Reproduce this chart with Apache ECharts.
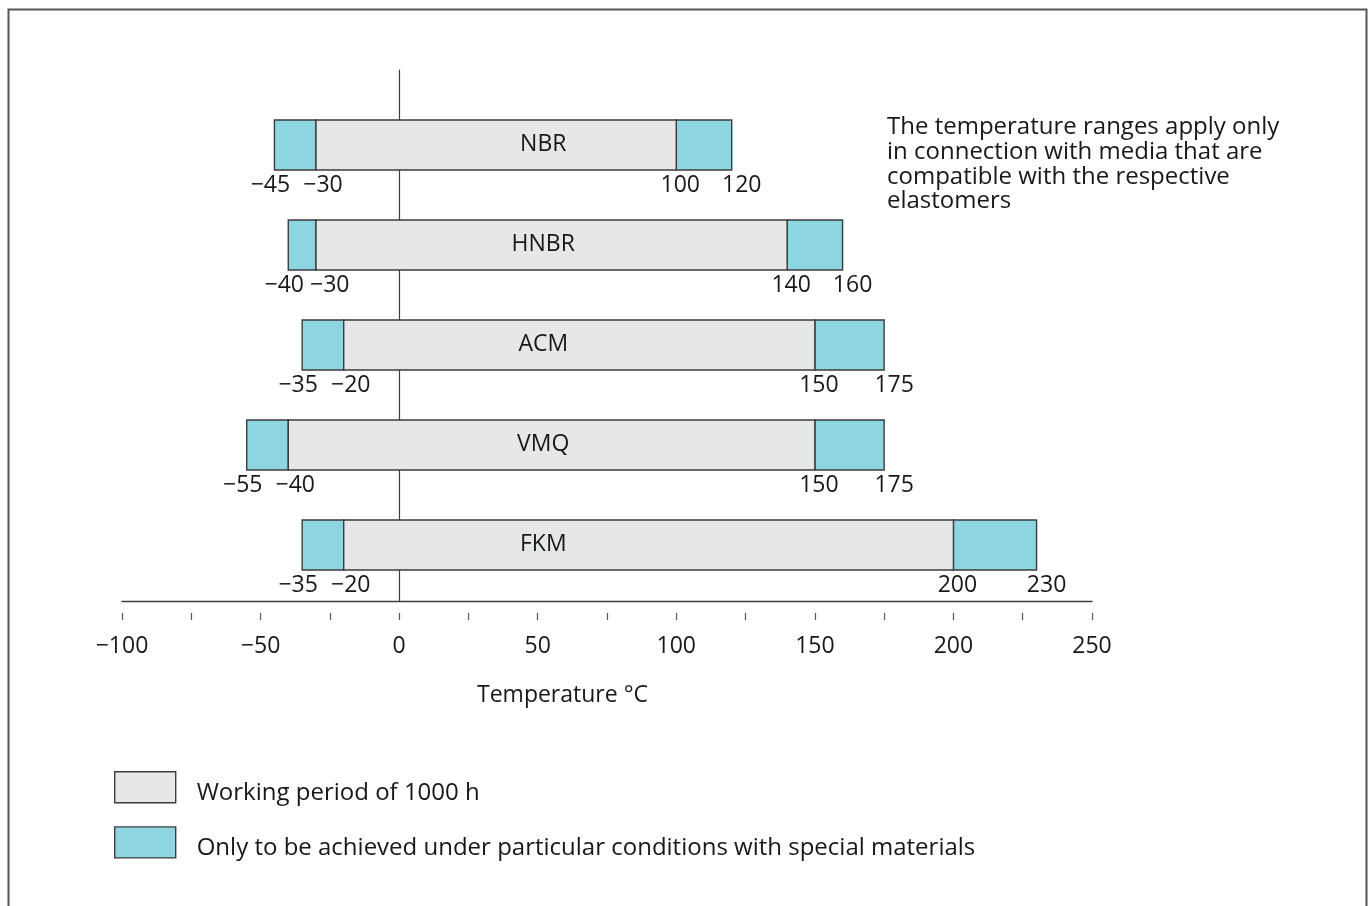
<!DOCTYPE html>
<html>
<head>
<meta charset="utf-8">
<script src="https://cdn.jsdelivr.net/npm/echarts@6/dist/echarts.min.js"></script>
<style>
html,body{margin:0;padding:0;background:#fff;}
#chart{width:1369px;height:906px;}
</style>
</head>
<body>
<div id="chart"></div>
<script>
// ---- data ----
const materials = ['NBR', 'HNBR', 'ACM', 'VMQ', 'FKM'];
const extLow   = [-45, -40, -35, -55, -35];   // lower limit, special conditions
const workLow  = [-30, -30, -20, -40, -20];   // lower limit, 1000 h working period
const workHigh = [100, 140, 150, 150, 200];   // upper limit, 1000 h working period
const extHigh  = [120, 160, 175, 175, 230];   // upper limit, special conditions
const axisMin = -100, axisMax = 250, tickStep = 25, labelStep = 50;
const legendNames = ['Working period of 1000 h', 'Only to be achieved under particular conditions with special materials'];
const noteText = 'The temperature ranges apply only\nin connection with media that are\ncompatible with the respective\nelastomers';
const axisTitle = 'Temperature °C';

// ---- style ----
const FONT = '"Open Sans", "Noto Sans", sans-serif';
const FS = 23;
const FS_BIG = 24;
const GREY = '#e6e7e8';
const CYAN = '#8dd5e0';
const EDGE = '#3c3c3c';
const TXT = '#1a1718';

const rows = materials.map((m, i) => [i, extLow[i], workLow[i], workHigh[i], extHigh[i]]);
const fmt = v => (v < 0 ? '\u2212' : '') + Math.abs(v);

const mctx = document.createElement('canvas').getContext('2d');
mctx.font = FS + 'px "Open Sans"';
const tw = s => mctx.measureText(s).width;

function rect(x1, x2, yc, h, color) {
  return {
    type: 'rect',
    shape: { x: x1, y: yc - h / 2, width: x2 - x1, height: h },
    style: { fill: color, stroke: EDGE, lineWidth: 1.4 }
  };
}
function label(x, y, text) {
  return {
    type: 'text', x: x, y: y,
    style: { text: text, fill: TXT, font: FS + 'px ' + FONT, align: 'center', verticalAlign: 'middle' }
  };
}

const chart = echarts.init(document.getElementById('chart'));
chart.setOption({
  backgroundColor: '#ffffff',
  animation: false,
  graphic: [{
    type: 'rect', left: 6, top: 7, silent: true,
    shape: { width: 1358, height: 930 },
    style: { fill: 'none', stroke: '#555', lineWidth: 2 }
  }],
  title: [
    { text: noteText, left: 887, top: 115, padding: 0,
      textStyle: { fontFamily: FONT, fontSize: FS_BIG, fontWeight: 'normal', color: TXT, lineHeight: 24.7 } },
    { text: axisTitle, left: 477, top: 684, padding: 0,
      textStyle: { fontFamily: FONT, fontSize: FS, fontWeight: 'normal', color: TXT } }
  ],
  legend: {
    orient: 'vertical', left: 114, top: 771, padding: 0,
    itemWidth: 61, itemHeight: 31, itemGap: 21, icon: 'rect',
    selectedMode: false,
    formatter: name => '{t|' + name + '}',
    textStyle: {
      fontFamily: FONT, fontSize: FS_BIG, color: TXT,
      rich: { t: { fontFamily: FONT, fontSize: FS_BIG, color: TXT, padding: [12, 0, 0, 16] } }
    },
    data: [
      { name: legendNames[0], itemStyle: { color: GREY, borderColor: EDGE, borderWidth: 1.4 } },
      { name: legendNames[1], itemStyle: { color: CYAN, borderColor: EDGE, borderWidth: 1.4 } }
    ]
  },
  grid: { left: 122, right: 277, top: 70, bottom: 305, containLabel: false },
  xAxis: [{
    type: 'value', min: axisMin, max: axisMax, interval: tickStep, position: 'bottom',
    axisLine: { show: true, onZero: false, lineStyle: { color: EDGE, width: 1.4 } },
    axisTick: { show: false }, axisLabel: { show: false }, splitLine: { show: false }
  }, {
    type: 'value', min: axisMin, max: axisMax, interval: tickStep, position: 'bottom', offset: 12,
    axisLine: { show: false, onZero: false },
    axisTick: { show: true, inside: false, length: 7, lineStyle: { color: '#555', width: 1.2 } },
    axisLabel: {
      show: true, margin: 22, fontFamily: FONT, fontSize: FS, color: TXT,
      formatter: v => (v % labelStep === 0 ? fmt(v) : '')
    },
    splitLine: { show: false }
  }],
  yAxis: {
    type: 'value', inverse: true, min: -0.75, max: 4.56,
    axisLine: { show: true, onZero: true, lineStyle: { color: EDGE, width: 1.2 } },
    axisTick: { show: false }, axisLabel: { show: false }, splitLine: { show: false }
  },
  series: [{
    name: legendNames[1],
    type: 'custom',
    itemStyle: { color: CYAN, borderColor: EDGE, borderWidth: 1.4 },
    encode: { x: [1, 2, 3, 4], y: 0 },
    data: rows,
    renderItem: function (params, api) {
      const r = api.value(0);
      const xa = api.coord([api.value(1), r]);
      const xb = api.coord([api.value(2), r]);
      const xc = api.coord([api.value(3), r]);
      const xd = api.coord([api.value(4), r]);
      const h = api.size([0, 0.5])[1];
      return { type: 'group', children: [
        rect(xa[0], xb[0], xa[1], h, CYAN),
        rect(xc[0], xd[0], xa[1], h, CYAN)
      ]};
    },
    z: 2
  }, {
    name: legendNames[0],
    type: 'custom',
    itemStyle: { color: GREY, borderColor: EDGE, borderWidth: 1.4 },
    encode: { x: [1, 2, 3, 4], y: 0 },
    data: rows,
    renderItem: function (params, api) {
      const i = params.dataIndex;
      const r = api.value(0);
      const vA = api.value(1), vB = api.value(2), vC = api.value(3), vD = api.value(4);
      const pa = api.coord([vA, r]), pb = api.coord([vB, r]);
      const pc = api.coord([vC, r]), pd = api.coord([vD, r]);
      const h = api.size([0, 0.5])[1];
      const yc = pa[1];
      const ly = yc + h / 2 + 15;
      const sA = fmt(vA), sB = fmt(vB), sC = fmt(vC), sD = fmt(vD);
      const cA = pa[0] - 4;
      const cB = Math.max(pb[0] + 7, cA + tw(sA) / 2 + 6 + tw(sB) / 2);
      const cC = pc[0] + 4;
      const cD = Math.max(pd[0] + 10, cC + tw(sC) / 2 + 16 + tw(sD) / 2);
      const pn = api.coord([52, r]);
      return { type: 'group', children: [
        rect(pb[0], pc[0], yc, h, GREY),
        label(pn[0], yc - 1, materials[i]),
        label(cA, ly, sA), label(cB, ly, sB),
        label(cC, ly, sC), label(cD, ly, sD)
      ]};
    },
    z: 3
  }]
});
</script>
</body>
</html>
